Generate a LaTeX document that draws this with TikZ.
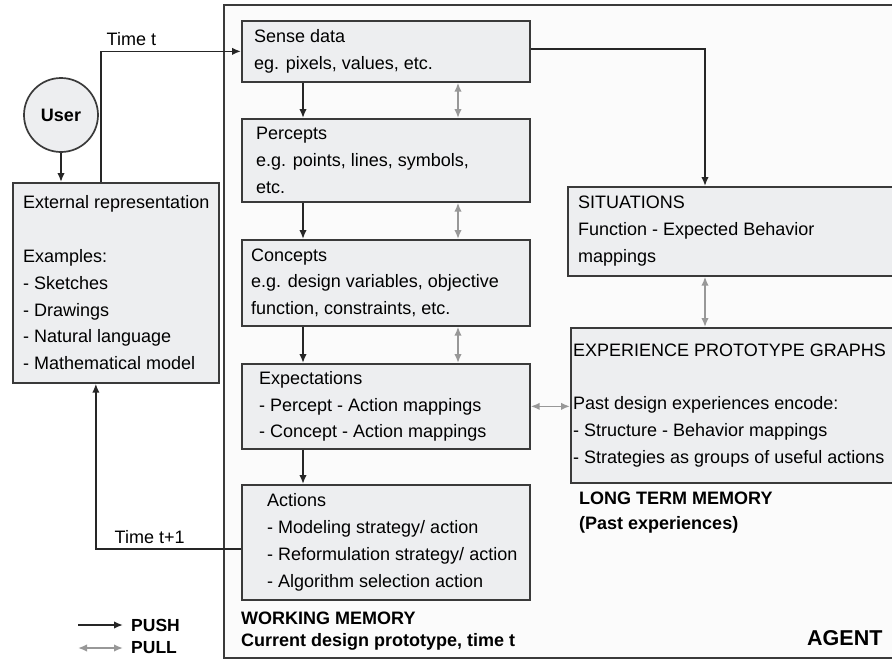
\documentclass[tikz,border=0pt]{standalone}
\usepackage{fontspec}
\setmainfont{Liberation Sans}
\usetikzlibrary{positioning, arrows.meta}

\definecolor{boxfill}{HTML}{EDEEF0}
\definecolor{boxline}{HTML}{3A3A3A}
\definecolor{pullgray}{HTML}{989898}
\definecolor{agentfill}{HTML}{FBFBFB}

\begin{document}
\begin{tikzpicture}[
        x=1pt, y=-1pt,
        >={Latex[length=9pt, width=7.5pt]},
        font=\fontsize{18}{26.8}\selectfont,
        box/.style={
            draw=boxline, fill=boxfill, line width=1.7pt,
            anchor=north west, inner sep=0pt
        },
        txt/.style={anchor=west, align=left, inner sep=0pt},
        push/.style={->, line width=1.7pt, draw=black!85},
        pull/.style={<->, line width=1.7pt, draw=pullgray},
        memtitle/.style={anchor=west, align=left, inner sep=0pt,
            font=\fontsize{18}{22}\selectfont\bfseries}% titulos en negrita
    ]

    \useasboundingbox (0,0) rectangle (892,659);

    % 1. Marco del agente
    \node[box, fill=agentfill, minimum width=720pt, minimum height=653pt] (agent) at (223,4) {};

    % 2. Usuario y representacion externa
    \node[circle, draw=boxline, fill=boxfill, line width=1.7pt, minimum size=74pt,
          inner sep=0pt, font=\fontsize{18}{20}\selectfont\bfseries] (user) at (61,115) {User};
    \node[box, minimum width=206pt, minimum height=200pt] (ext) at (12,182) {};
    \node[txt] (ext-t) at ([xshift=11pt]ext.west) {External representation\\[26.8pt]Examples:\\- Sketches\\- Drawings\\- Natural language\\- Mathematical model};

    % 3. Memoria de trabajo
    \node[box, minimum width=288pt, minimum height=61pt] (sense) at (241,20) {};
    \node[txt] (sense-t) at ([xshift=13pt]sense.west) {Sense data\\eg. pixels, values, etc.};

    \node[box, minimum width=288pt, minimum height=83pt] (percepts) at (241,118) {};
    \node[txt] (percepts-t) at ([xshift=15pt]percepts.west) {Percepts\\e.g. points, lines, symbols,\\etc.};

    \node[box, minimum width=288pt, minimum height=86pt] (concepts) at (241,239) {};
    \node[txt] (concepts-t) at ([xshift=10pt]concepts.west) {Concepts\\e.g. design variables, objective\\function, constraints, etc.};

    \node[box, minimum width=288pt, minimum height=85pt] (expect) at (241,363) {};
    \node[txt] (expect-t) at ([xshift=18pt]expect.west) {Expectations\\- Percept - Action mappings\\- Concept - Action mappings};

    \node[box, minimum width=288pt, minimum height=115pt] (actions) at (241,484) {};
    \node[txt] (actions-t) at ([xshift=26pt]actions.west) {Actions\\- Modeling strategy/ action\\- Reformulation strategy/ action\\- Algorithm selection action};

    % 4. Memoria de largo plazo
    \node[box, minimum width=380pt, minimum height=89pt] (sit) at (567,186) {};
    \node[txt] (sit-t) at ([xshift=11pt]sit.west) {SITUATIONS\\Function - Expected Behavior\\mappings};

    \node[box, minimum width=380pt, minimum height=155pt] (exp) at (570,327) {};
    \node[txt] (exp-t) at ([xshift=3pt]exp.west) {EXPERIENCE PROTOTYPE GRAPHS\\[26.8pt]Past design experiences encode:\\- Structure - Behavior mappings\\- Strategies as groups of useful actions};

    % 5. Flechas PUSH (negras)
    \draw[push] (user.south) -- (user.south |- ext.north);
    \draw[push] ([xshift=-15pt]ext.north) |- node[pos=0.5, above right, inner sep=2pt, xshift=3pt, yshift=3pt] (time-t) {Time t} (sense.west);
    \draw[push] ([yshift=-6.5pt]actions.west) -| node[pos=0.5, above right, inner sep=2pt, xshift=16pt, yshift=2pt] (time-t1) {Time t+1} ([xshift=-20pt]ext.south);

    \draw[push] ([xshift=62pt]sense.south west) -- ([xshift=62pt]percepts.north west);
    \draw[push] ([xshift=62pt]percepts.south west) -- ([xshift=62pt]concepts.north west);
    \draw[push] ([xshift=62pt]concepts.south west) -- ([xshift=62pt]expect.north west);
    \draw[push] ([xshift=62pt]expect.south west) -- ([xshift=62pt]actions.north west);

    \draw[push] ([yshift=2.5pt]sense.east) -| ([xshift=138pt]sit.north west);

    % 6. Flechas PULL (grises)
    \draw[pull] ([xshift=217pt]sense.south west) -- ([xshift=217pt]percepts.north west);
    \draw[pull] ([xshift=217pt]percepts.south west) -- ([xshift=217pt]concepts.north west);
    \draw[pull] ([xshift=217pt]concepts.south west) -- ([xshift=217pt]expect.north west);
    \draw[pull] ([xshift=138pt]sit.south west) -- ([xshift=135pt]exp.north west);
    \draw[pull] (expect.east) -- (expect.east -| exp.west);

    % 7. Titulos de memorias
    \node[memtitle] (wm) at (241,631) {WORKING MEMORY\\Current design prototype, time t};
    \node[memtitle, font=\fontsize{18}{25}\selectfont\bfseries] (ltm) at (579,512.5) {LONG TERM MEMORY\\(Past experiences)};
    \node[memtitle, font=\fontsize{21.5}{24}\selectfont\bfseries] (agent-t) at (807,638) {AGENT};

    % 8. Leyenda
    \node[memtitle, font=\fontsize{17.5}{20}\selectfont\bfseries] (push-t) at (131,625) {PUSH};
    \node[memtitle, font=\fontsize{17.5}{20}\selectfont\bfseries] (pull-t) at (131,648) {PULL};
    \coordinate (push-a) at (78,625);
    \coordinate (pull-a) at (78,648);
    \draw[push] (push-a) -- ([xshift=-8pt]push-t.west);
    \draw[pull] (pull-a) -- ([xshift=-8pt]pull-t.west);

\end{tikzpicture}
\end{document}
